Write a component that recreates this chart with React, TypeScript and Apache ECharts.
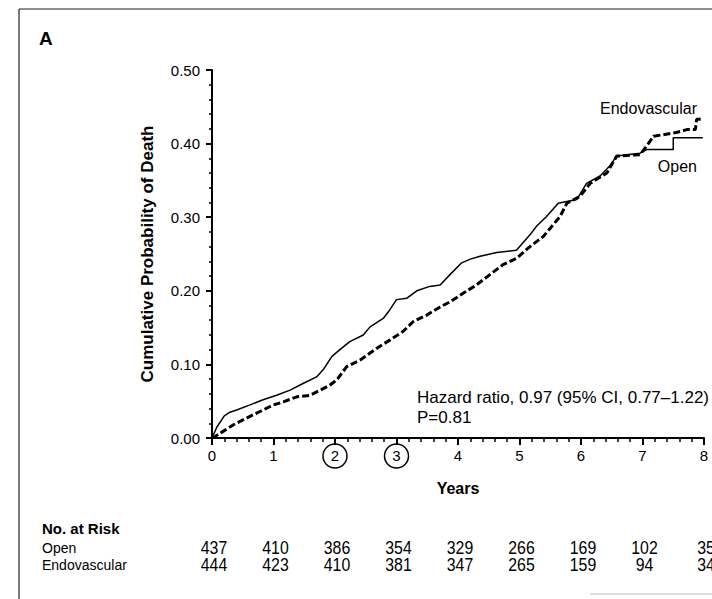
import React, { useEffect, useRef } from "react";
import * as echarts from "echarts";

// Kaplan–Meier style cumulative probability of death
const openYears = [0, 0.08, 0.2, 0.29, 0.4, 0.62, 0.83, 1.05, 1.27, 1.48, 1.7, 1.81, 1.95, 2.08, 2.24, 2.46, 2.57, 2.79, 2.89, 3.0, 3.17, 3.33, 3.54, 3.71, 3.87, 4.06, 4.2, 4.36, 4.63, 4.95, 5.17, 5.28, 5.44, 5.63, 5.93, 6.09, 6.31, 6.47, 6.58, 6.96, 7.07, 7.5, 7.5, 7.98];
const openProb = [0, 0.015, 0.03, 0.035, 0.038, 0.045, 0.052, 0.058, 0.065, 0.074, 0.083, 0.093, 0.111, 0.12, 0.131, 0.14, 0.151, 0.163, 0.174, 0.188, 0.19, 0.2, 0.206, 0.208, 0.222, 0.238, 0.243, 0.247, 0.252, 0.255, 0.276, 0.288, 0.301, 0.319, 0.324, 0.346, 0.356, 0.37, 0.383, 0.387, 0.392, 0.392, 0.408, 0.408];

const endoYears = [0, 0.05, 0.18, 0.35, 0.56, 0.78, 1.0, 1.16, 1.38, 1.59, 1.76, 1.92, 2.03, 2.19, 2.41, 2.68, 2.89, 3.11, 3.27, 3.49, 3.71, 3.87, 4.09, 4.3, 4.52, 4.74, 4.95, 5.17, 5.39, 5.5, 5.66, 5.77, 5.98, 6.15, 6.42, 6.58, 6.96, 7.07, 7.18, 7.55, 7.72, 7.86, 7.88, 7.96];
const endoProb = [0, 0.002, 0.009, 0.018, 0.027, 0.036, 0.045, 0.049, 0.056, 0.058, 0.065, 0.072, 0.079, 0.097, 0.106, 0.122, 0.133, 0.145, 0.158, 0.167, 0.178, 0.185, 0.197, 0.208, 0.222, 0.236, 0.244, 0.26, 0.274, 0.285, 0.301, 0.319, 0.328, 0.346, 0.36, 0.383, 0.385, 0.397, 0.41, 0.415, 0.419, 0.419, 0.433, 0.433];

const riskYears = [0, 1, 2, 3, 4, 5, 6, 7, 8];
const riskOpen = [437, 410, 386, 354, 329, 266, 169, 102, 35];
const riskEndo = [444, 423, 410, 381, 347, 265, 159, 94, 34];
const circledYears = [2, 3];

const panelLabel = "A";
const yTitle = "Cumulative Probability of Death";
const xTitle = "Years";
const hazardText = "Hazard ratio, 0.97 (95% CI, 0.77\u20131.22)";
const pText = "P=0.81";

const FONT = "Liberation Sans";

export default function App() {
  const ref = useRef<HTMLDivElement>(null);
  useEffect(() => {
    const chart = echarts.init(ref.current!, null, { renderer: "svg" });
    const zip = (xs: number[], ys: number[]) => xs.map((x, i) => [x, ys[i]]);
    chart.setOption({
      animation: false,
      backgroundColor: "#fff",
      grid: { left: 212, right: 8, top: 70, bottom: 161 },
      xAxis: {
        type: "value",
        min: 0,
        max: 8,
        interval: 1,
        axisLine: { lineStyle: { color: "#000", width: 2 } },
        axisTick: { length: 7, lineStyle: { color: "#000", width: 2 } },
        minorTick: { show: true, splitNumber: 5, length: 4, lineStyle: { color: "#000", width: 1.5 } },
        splitLine: { show: false },
        axisLabel: { color: "#000", fontFamily: FONT, fontSize: 15, margin: 10 },
        name: xTitle,
        nameLocation: "middle",
        nameGap: 42,
        nameTextStyle: { color: "#000", fontFamily: FONT, fontSize: 16, fontWeight: "bold" },
      },
      yAxis: {
        type: "value",
        min: 0,
        max: 0.5,
        interval: 0.1,
        axisLine: { show: true, lineStyle: { color: "#000", width: 2 } },
        axisTick: { show: true, length: 6, lineStyle: { color: "#000", width: 2 } },
        minorTick: { show: true, splitNumber: 5, length: 3, lineStyle: { color: "#000", width: 1.5 } },
        splitLine: { show: false },
        axisLabel: { color: "#000", fontFamily: FONT, fontSize: 15, margin: 12, formatter: (v: number) => v.toFixed(2) },
        name: yTitle,
        nameLocation: "middle",
        nameGap: 56,
        nameTextStyle: { color: "#000", fontFamily: FONT, fontSize: 17, fontWeight: "bold" },
      },
      series: [
        {
          name: "Open",
          type: "line",
          data: zip(openYears, openProb),
          showSymbol: false,
          symbol: "none",
          lineStyle: { color: "#000", width: 1.5 },
          z: 3,
        },
        {
          name: "Endovascular",
          type: "line",
          data: zip(endoYears, endoProb),
          showSymbol: false,
          symbol: "none",
          lineStyle: { color: "#000", width: 3, type: [7, 3] },
          z: 2,
        },
      ],
    });

    const px = (x: number, y: number) => chart.convertToPixel({ gridIndex: 0 }, [x, y]) as number[];
    const txt = (x: number, y: number, text: string, font: string, align = "left", scaleX = 1) => ({
      type: "text",
      x,
      y,
      scaleX,
      style: { text, font, fill: "#000", align, verticalAlign: "middle" },
    });
    const g: any[] = [
      { type: "line", shape: { x1: 19, y1: 9, x2: 712, y2: 9 }, style: { stroke: "#222", lineWidth: 1.2 } },
      { type: "line", shape: { x1: 19, y1: 9, x2: 19, y2: 599 }, style: { stroke: "#222", lineWidth: 1.2 } },
      { type: "line", shape: { x1: 590, y1: 594, x2: 712, y2: 594 }, style: { stroke: "#bbb", lineWidth: 1 } },
      txt(39, 38, panelLabel, `bold 19px ${FONT}`),
      txt(417, 397, hazardText, `17px ${FONT}`),
      txt(417, 417, pText, `17px ${FONT}`),
      txt(697, 108, "Endovascular", `16px ${FONT}`, "right"),
      txt(697, 166, "Open", `16px ${FONT}`, "right"),
      txt(42, 528, "No. at Risk", `bold 15px ${FONT}`),
      txt(42, 548, "Open", `14px ${FONT}`),
      txt(42, 565, "Endovascular", `14px ${FONT}`),
    ];
    riskYears.forEach((yr, i) => {
      const [x] = px(yr, 0);
      g.push(txt(x + 2, 548, String(riskOpen[i]), `18px ${FONT}`, "center", 0.88));
      g.push(txt(x + 2, 565, String(riskEndo[i]), `18px ${FONT}`, "center", 0.88));
    });
    circledYears.forEach((yr) => {
      const [x, y] = px(yr, 0);
      g.push({ type: "ellipse", shape: { cx: x, cy: y + 18, rx: 12, ry: 12 }, style: { fill: "none", stroke: "#000", lineWidth: 1.5 } });
    });
    chart.setOption({ graphic: g });
    return () => chart.dispose();
  }, []);
  return <div ref={ref} style={{ position: "fixed", left: 0, top: 0, width: 712, height: 599 }} />;
}
